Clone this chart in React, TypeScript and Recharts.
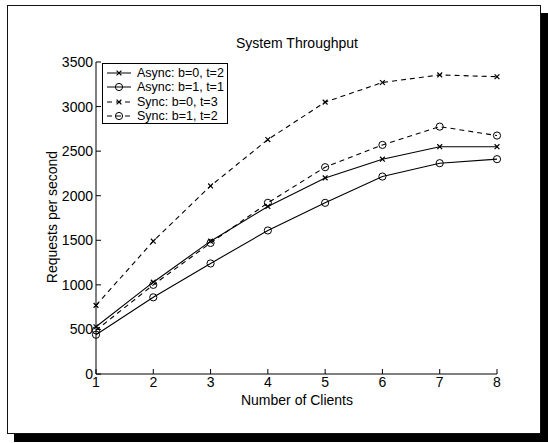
import { LineChart, Line, XAxis, YAxis, Legend } from 'recharts'

const clients = [1, 2, 3, 4, 5, 6, 7, 8]
const asyncB0T2 = [530, 1030, 1490, 1880, 2200, 2410, 2550, 2550]
const asyncB1T1 = [440, 860, 1240, 1610, 1920, 2215, 2365, 2410]
const syncB0T3 = [770, 1490, 2110, 2630, 3050, 3270, 3355, 3335]
const syncB1T2 = [490, 1000, 1470, 1920, 2320, 2570, 2775, 2675]
const yTicks = [0, 500, 1000, 1500, 2000, 2500, 3000, 3500]

const SERIES = [
  { key: 'asyncB0T2', name: 'Async: b=0, t=2', marker: 'x', dashed: false },
  { key: 'asyncB1T1', name: 'Async: b=1, t=1', marker: 'o', dashed: false },
  { key: 'syncB0T3', name: 'Sync: b=0, t=3', marker: 'x', dashed: true },
  { key: 'syncB1T2', name: 'Sync: b=1, t=2', marker: 'o', dashed: true },
]

const data = clients.map((c, i) => ({
  clients: c,
  asyncB0T2: asyncB0T2[i],
  asyncB1T1: asyncB1T1[i],
  syncB0T3: syncB0T3[i],
  syncB1T2: syncB1T2[i],
}))

const FONT = '"Liberation Sans", Arial, Helvetica, sans-serif'
const DASH = '5 4'

function Marker({ cx, cy, kind }: { cx: number; cy: number; kind: string }) {
  if (cx == null || cy == null) return null
  if (kind === 'o') {
    return <circle cx={cx} cy={cy} r={3.6} fill="none" stroke="#000" strokeWidth={1} />
  }
  const s = 2.4
  return (
    <g stroke="#000" strokeWidth={1.2}>
      <line x1={cx - s} y1={cy - s} x2={cx + s} y2={cy + s} />
      <line x1={cx - s} y1={cy + s} x2={cx + s} y2={cy - s} />
    </g>
  )
}

function LegendBox() {
  return (
    <div
      style={{
        border: '1px solid #000',
        background: '#fff',
        width: 126,
        height: 61,
        boxSizing: 'border-box',
        paddingTop: 2,
        fontFamily: FONT,
        fontSize: 12.5,
        color: '#000',
      }}
    >
      {SERIES.map((s) => (
        <div key={s.key} style={{ display: 'flex', alignItems: 'center', height: 14.3 }}>
          <svg width={34} height={14} style={{ flex: 'none' }}>
            <line x1={4} x2={28} y1={7} y2={7} stroke="#000" strokeWidth={1} strokeDasharray={s.dashed ? DASH : undefined} />
            <Marker cx={16} cy={7} kind={s.marker} />
          </svg>
          <span style={{ whiteSpace: 'nowrap' }}>{s.name}</span>
        </div>
      ))}
    </div>
  )
}

export default function App() {
  return (
    <div style={{ position: 'absolute', left: 0, top: 0, width: 548, height: 443, background: '#fff', overflow: 'hidden' }}>
      <div
        style={{
          position: 'absolute',
          left: 7,
          top: 5,
          width: 534,
          height: 429,
          boxSizing: 'border-box',
          border: '1.5px solid #111',
          boxShadow: '7px 8px 0 #000',
          background: '#fff',
        }}
      />
      <div style={{ position: 'absolute', left: 0, top: 0 }}>
        <LineChart
          width={548}
          height={443}
          data={data}
          margin={{ top: 62, right: 51, left: 36, bottom: 39 }}
          style={{ fontFamily: FONT }}
        >
          <XAxis
            dataKey="clients"
            type="number"
            domain={[1, 8]}
            ticks={clients}
            height={30}
            tickSize={-5}
            tickMargin={8}
            stroke="#000"
            tick={{ fill: '#000', fontSize: 14 }}
          />
          <YAxis
            type="number"
            domain={[0, 3500]}
            ticks={yTicks}
            width={60}
            tickSize={-5}
            tickMargin={8}
            stroke="#000"
            tick={{ fill: '#000', fontSize: 14 }}
          />
          <Legend
            layout="vertical"
            align="center"
            verticalAlign="middle"
            wrapperStyle={{ left: 102, top: 63, width: 126 }}
            content={() => <LegendBox />}
          />
          {SERIES.map((s) => (
            <Line
              key={s.key}
              dataKey={s.key}
              name={s.name}
              type="linear"
              stroke="#000"
              strokeWidth={1.1}
              strokeDasharray={s.dashed ? DASH : undefined}
              isAnimationActive={false}
              dot={(p: any) => <Marker key={`${s.key}-${p.index}`} cx={p.cx} cy={p.cy} kind={s.marker} />}
              activeDot={false}
            />
          ))}
          <text x={297} y={48} textAnchor="middle" fontSize={14} fill="#000" fontFamily={FONT}>
            System Throughput
          </text>
          <text x={297} y={405} textAnchor="middle" fontSize={14} fill="#000" fontFamily={FONT}>
            Number of Clients
          </text>
          <text
            x={52}
            y={217}
            textAnchor="middle"
            dominantBaseline="central"
            fontSize={14}
            fill="#000"
            fontFamily={FONT}
            transform="rotate(-90 52 217)"
          >
            Requests per second
          </text>
        </LineChart>
      </div>
    </div>
  )
}
